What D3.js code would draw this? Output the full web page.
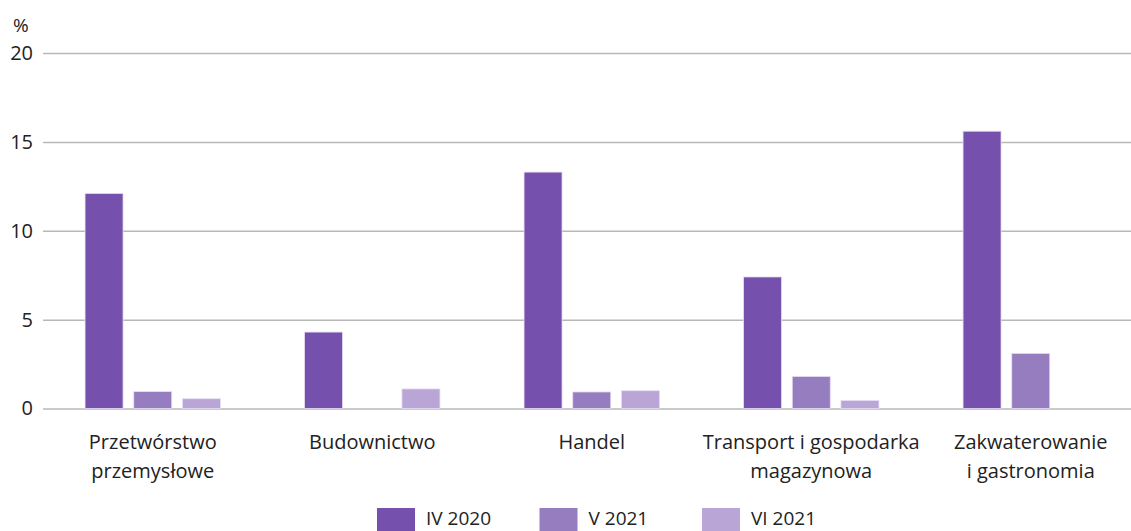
<!DOCTYPE html>
<html>
<head>
<meta charset="utf-8">
<script src="https://cdn.jsdelivr.net/npm/d3@7"></script>
<style>
  body { margin: 0; background: #fff; }
  text { font-family: "Open Sans", "Noto Sans", sans-serif; fill: #222; }
</style>
</head>
<body>
<script>
'use strict';

// chart data
var categories = [
    ['Przetwórstwo', 'przemysłowe'],
    ['Budownictwo'],
    ['Handel'],
    ['Transport i gospodarka', 'magazynowa'],
    ['Zakwaterowanie', 'i gastronomia']
];
var series = ['IV 2020', 'V 2021', 'VI 2021'];
var valuesIV2020 = [12.1, 4.3, 13.3, 7.4, 15.6];
var valuesV2021 = [0.95, null, 0.93, 1.8, 3.1];
var valuesVI2021 = [0.55, 1.1, 1.0, 0.45, null];
var yTicks = [0, 5, 10, 15, 20];
var colors = ['#7550ad', '#967dc0', '#b9a5d6'];

var width = 1131, height = 531;
var y0 = 408.5, yTop = 53;
var left = 43;

var svg = d3.select('body').append('svg')
    .attr('width', width)
    .attr('height', height);

var x0 = d3.scaleBand()
    .domain(d3.range(categories.length))
    .range([left, left + 219.5 * categories.length]);

var x1 = d3.scaleBand()
    .domain(series)
    .range([-67.7, 67.7])
    .paddingInner(0.22);

var y = d3.scaleLinear()
    .domain([0, 20])
    .range([y0, yTop]);

// gridlines and y labels
var yAxis = svg.append('g')
    .attr('transform', 'translate(' + left + ',0)')
    .call(d3.axisLeft(y).tickValues(yTicks).tickSize(-(width - left)).tickPadding(10));
yAxis.select('.domain').remove();
yAxis.selectAll('line').attr('stroke', '#b8b8b8').attr('stroke-width', 1.5);
yAxis.selectAll('text')
    .attr('font-size', 20)
    .attr('fill', '#222')
    .style('font-family', '"Open Sans", sans-serif');

svg.append('text')
    .attr('x', 13)
    .attr('y', 32)
    .attr('font-size', 19)
    .text('%');

// bars
var table = [valuesIV2020, valuesV2021, valuesVI2021];
var rows = [];
categories.forEach(function(c, i) {
    series.forEach(function(s, j) {
        if (table[j][i] != null) {
            rows.push({cat: i, series: s, idx: j, value: table[j][i]});
        }
    });
});

svg.append('g').selectAll('rect')
    .data(rows)
    .enter().append('rect')
    .attr('x', function(d) { return x0(d.cat) + x0.bandwidth() / 2 + x1(d.series); })
    .attr('y', function(d) { return y(d.value); })
    .attr('width', x1.bandwidth())
    .attr('height', function(d) { return y0 - y(d.value); })
    .attr('fill', function(d) { return colors[d.idx]; })
    .attr('stroke', '#e6dcf3')
    .attr('stroke-width', 0.8);

// category labels
var labels = svg.append('g').selectAll('text')
    .data(categories)
    .enter().append('text')
    .attr('text-anchor', 'middle')
    .attr('font-size', 20)
    .attr('x', function(d, i) { return x0(i) + x0.bandwidth() / 2; })
    .attr('y', 449);

labels.selectAll('tspan')
    .data(function(d) { return d; })
    .enter().append('tspan')
    .attr('x', function() { return d3.select(this.parentNode).attr('x'); })
    .attr('dy', function(d, i) { return i === 0 ? 0 : 29; })
    .text(function(d) { return d; });

// legend
var legend = svg.append('g').selectAll('g')
    .data(series)
    .enter().append('g')
    .attr('transform', function(d, i) { return 'translate(' + (377 + i * 162.5) + ',508)'; });

legend.append('rect')
    .attr('width', 38)
    .attr('height', 23)
    .attr('fill', function(d, i) { return colors[i]; });

legend.append('text')
    .attr('x', 49)
    .attr('y', 17)
    .attr('font-size', 19)
    .text(function(d) { return d; });
</script>
</body>
</html>
